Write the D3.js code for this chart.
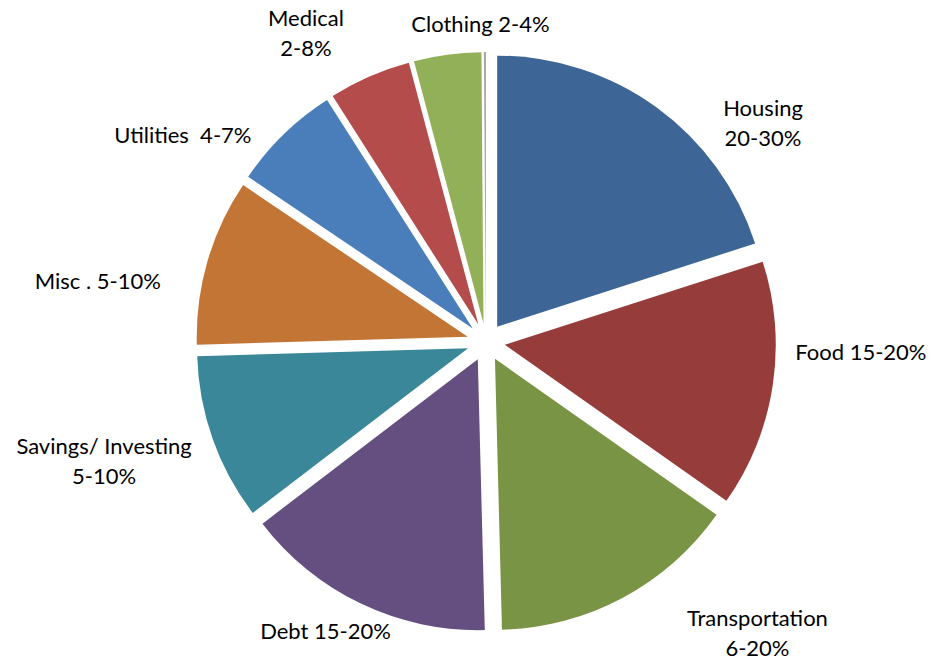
<!DOCTYPE html>
<html>
<head>
<meta charset="utf-8">
<script src="https://cdnjs.cloudflare.com/ajax/libs/d3/7.8.5/d3.min.js"></script>
<style>
  html, body { margin: 0; padding: 0; background: #fff; }
  svg { display: block; }
  text.label { white-space: pre; }
</style>
</head>
<body>
<svg id="chart"></svg>
<script>
// Budget shares
const categories = ['Housing', 'Food', 'Transportation', 'Debt', 'Savings/ Investing', 'Misc .', 'Utilities', 'Medical', 'Clothing', 'Other'];
const shares = [20.0, 14.7, 14.8, 15.0, 9.9, 9.9, 6.5, 4.9, 4.0, 0.12];
const labelLines = [
  ['Housing', '20-30%'],
  ['Food 15-20%'],
  ['Transportation', '6-20%'],
  ['Debt 15-20%'],
  ['Savings/ Investing', '5-10%'],
  ['Misc . 5-10%'],
  ['Utilities  4-7%'],
  ['Medical', '2-8%'],
  ['Clothing 2-4%'],
  []
];
const colors = ['#3d6596', '#963c3a', '#7a9445', '#644f80', '#3a8799', '#c27535', '#4a7ebb', '#b34c4a', '#92b057', '#a5a5a5'];

const width = 932, height = 664;
const cx = 486, cy = 342;
const radius = 271;
const explode = 19;

// label anchor: [angle in degrees clockwise from top, distance from centre]
const labelPolar = [[51.7, 353], [91.5, 375], [137, 398], [209, 331], [252.7, 400], [279, 393], [304.3, 367], [329.8, 358], [359, 318], [0, 0]];

const data = categories.map((c, i) => ({ name: c, value: shares[i], lines: labelLines[i], color: colors[i] }));

const svg = d3.select('#chart')
  .attr('width', width)
  .attr('height', height)
  .attr('viewBox', `0 0 ${width} ${height}`);

const g = svg.append('g').attr('transform', `translate(${cx}, ${cy})`);

const pie = d3.pie().sort(null).value(d => d.value);
const arc = d3.arc().innerRadius(0).outerRadius(radius);
const arcs = pie(data);

// Exploded slices
g.selectAll('path.slice')
  .data(arcs)
  .join('path')
  .attr('class', 'slice')
  .attr('fill', d => d.data.color)
  .attr('transform', d => {
    const a = (d.startAngle + d.endAngle) / 2;
    return `translate(${Math.sin(a) * explode}, ${-Math.cos(a) * explode})`;
  })
  .attr('d', arc);

// Labels
const labels = g.selectAll('text.label')
  .data(arcs.filter(d => d.data.lines.length))
  .join('text')
  .attr('class', 'label')
  .attr('text-anchor', 'middle')
  .attr('font-family', 'Lato, "Open Sans", sans-serif')
  .attr('font-size', '22px')
  .attr('fill', '#000')
  .attr('transform', d => {
    const [deg, r] = labelPolar[d.index];
    const a = deg * Math.PI / 180;
    return `translate(${Math.sin(a) * r}, ${-Math.cos(a) * r})`;
  });

labels.each(function(d) {
  const n = d.data.lines.length;
  const lh = 30;
  d3.select(this).selectAll('tspan')
    .data(d.data.lines)
    .join('tspan')
    .attr('x', 0)
    .attr('y', (l, i) => (i - (n - 1) / 2) * lh + 8)
    .text(l => l);
});
</script>
</body>
</html>
